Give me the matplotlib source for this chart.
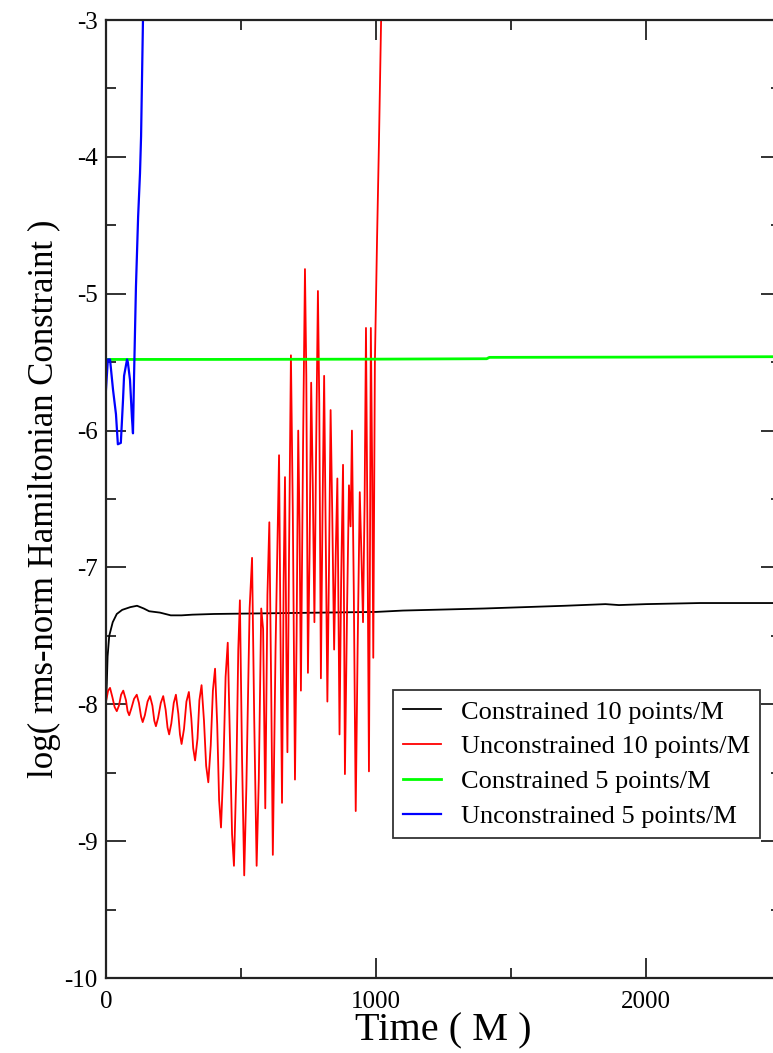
import numpy as np
import matplotlib
matplotlib.use('Agg')
from matplotlib import pyplot as plt
from matplotlib.ticker import MultipleLocator

plt.rcParams['font.family'] = ['Liberation Serif', 'DejaVu Serif']
plt.rcParams['axes.unicode_minus'] = False

# Constrained 10 points/M
black_t = [0, 3, 6, 12, 25, 40, 60, 90, 115, 140, 160, 200, 240, 280, 320, 400,
           600, 800, 1000, 1100, 1400, 1700, 1850, 1900, 2000, 2200, 2500]
black_y = [-8.0, -7.85, -7.65, -7.5, -7.4, -7.34, -7.31, -7.29, -7.28, -7.3,
           -7.32, -7.33, -7.35, -7.35, -7.345, -7.34, -7.335, -7.33, -7.325,
           -7.315, -7.3, -7.28, -7.268, -7.275, -7.268, -7.26, -7.26]

# Unconstrained 10 points/M
red_t = [0, 8, 15, 24, 32, 40, 48, 56, 64, 74, 80, 86, 94, 104, 114, 122, 130,
         136, 144, 154, 163, 172, 179, 185, 193, 203, 212, 221, 228, 234, 242,
         251, 259, 268, 274, 280, 289, 298, 307, 316, 323, 330, 339, 346, 354,
         363, 371, 379, 388, 396, 404, 412, 419, 426, 435, 443, 451, 459, 467,
         474, 483, 490, 496, 504, 512, 520, 532, 541, 549, 558, 566, 575, 582,
         590, 598, 605, 612, 618, 628, 641, 646, 652, 658, 663, 668, 672, 678,
         685, 692, 700, 706, 712, 717, 722, 730, 737, 742, 748, 754, 760, 766,
         772, 778, 785, 790, 796, 802, 808, 814, 820, 826, 832, 838, 845, 851,
         857, 861, 865, 871, 878, 882, 885, 893, 900, 906, 911, 918, 925, 932,
         940, 946, 952, 958, 963, 968, 974, 978, 981, 986, 990, 996, 1004,
         1011, 1019, 1030]
red_y = [-7.98, -7.90, -7.88, -7.95, -8.02, -8.05, -8.01, -7.93, -7.90, -7.97,
         -8.05, -8.08, -8.03, -7.96, -7.93, -7.99, -8.09, -8.13, -8.08, -7.98,
         -7.94, -8.01, -8.12, -8.16, -8.10, -7.99, -7.94, -8.04, -8.17, -8.22,
         -8.14, -7.99, -7.93, -8.07, -8.22, -8.29, -8.18, -7.98, -7.91, -8.10,
         -8.32, -8.41, -8.25, -7.97, -7.86, -8.12, -8.45, -8.57, -8.30, -7.90,
         -7.74, -8.15, -8.70, -8.90, -8.45, -7.80, -7.55, -8.25, -8.95, -9.18,
         -8.50, -7.60, -7.24, -8.40, -9.25, -8.60, -7.30, -6.93, -8.10, -9.18,
         -8.55, -7.30, -7.45, -8.76, -7.20, -6.67, -7.90, -9.10, -7.60, -6.18,
         -7.40, -8.72, -7.10, -6.34, -7.60, -8.35, -6.90, -5.45, -6.60, -8.55,
         -7.50, -6.00, -6.70, -7.90, -6.10, -4.82, -5.60, -7.77, -6.90, -5.65,
         -6.40, -7.40, -6.20, -4.98, -5.80, -7.81, -6.60, -5.60, -6.80, -7.98,
         -7.00, -5.85, -6.60, -7.60, -6.90, -6.35, -7.30, -8.22, -7.10, -6.25,
         -7.40, -8.51, -7.30, -6.40, -6.70, -6.00, -7.20, -8.78, -7.60, -6.45,
         -6.90, -7.40, -6.50, -5.25, -6.60, -8.49, -6.80, -5.25, -6.30, -7.66,
         -5.50, -4.60, -3.90, -3.00, -2.50]

# Constrained 5 points/M
green_t = [0, 3, 10, 400, 1000, 1410, 1420, 2000, 2500]
green_y = [-5.55, -5.48, -5.48, -5.48, -5.478, -5.475, -5.465, -5.463, -5.46]

# Unconstrained 5 points/M
blue_t = [0, 7, 15, 26, 37, 44, 55, 63, 67, 78, 81, 89, 96, 100, 104, 111,
          119, 126, 130, 137, 145]
blue_y = [-5.70, -5.48, -5.48, -5.70, -5.88, -6.10, -6.09, -5.78, -5.60, -5.48,
          -5.50, -5.63, -5.90, -6.02, -5.60, -4.95, -4.44, -4.12, -3.85, -3.0,
          -2.5]

series = [
    (black_t, black_y, 'black', 1.3, 'Constrained 10 points/M'),
    (red_t, red_y, '#ff0000', 1.3, 'Unconstrained 10 points/M'),
    (green_t, green_y, '#00ff00', 2.0, 'Constrained 5 points/M'),
    (blue_t, blue_y, '#0000ff', 1.6, 'Unconstrained 5 points/M'),
]

fig = plt.figure(figsize=(7.73, 10.53), dpi=100)
ax = fig.add_axes([0.1371, 0.0712, 0.8732, 0.9098])

for t, y, color, lw, label in series:
    ax.plot(t, y, color=color, lw=lw, label=label)

ax.set_xlim(0, 2500)
ax.set_ylim(-10, -3)
ax.xaxis.set_major_locator(MultipleLocator(1000))
ax.xaxis.set_minor_locator(MultipleLocator(500))
ax.yaxis.set_major_locator(MultipleLocator(1))
ax.yaxis.set_minor_locator(MultipleLocator(0.5))

ax.tick_params(which='both', direction='in', top=True, right=True, width=1.3,
               labelsize=18, color='#222222')
ax.tick_params(which='major', length=14.5)
ax.tick_params(which='minor', length=7.5)
ax.tick_params(axis='x', pad=9)
ax.tick_params(axis='y', pad=6)
for spine in ax.spines.values():
    spine.set_linewidth(1.6)
    spine.set_color('#222222')

ax.set_xlabel('Time ( M )', fontsize=29)
ax.set_ylabel('log( rms-norm Hamiltonian Constraint )', fontsize=25)
ax.yaxis.set_label_coords(-0.066, 0.5)
ax.xaxis.set_label_coords(0.5, -0.036)

leg = ax.legend(loc='upper left', bbox_to_anchor=(0.5084, 0.3447),
                bbox_transform=fig.transFigure, borderaxespad=0,
                fontsize=19, frameon=True, fancybox=False, edgecolor='black',
                handlelength=1.45, handletextpad=0.75, borderpad=0.38,
                labelspacing=0.43)
leg.get_frame().set_linewidth(1.3)

fig.savefig('out.png', dpi=100)
